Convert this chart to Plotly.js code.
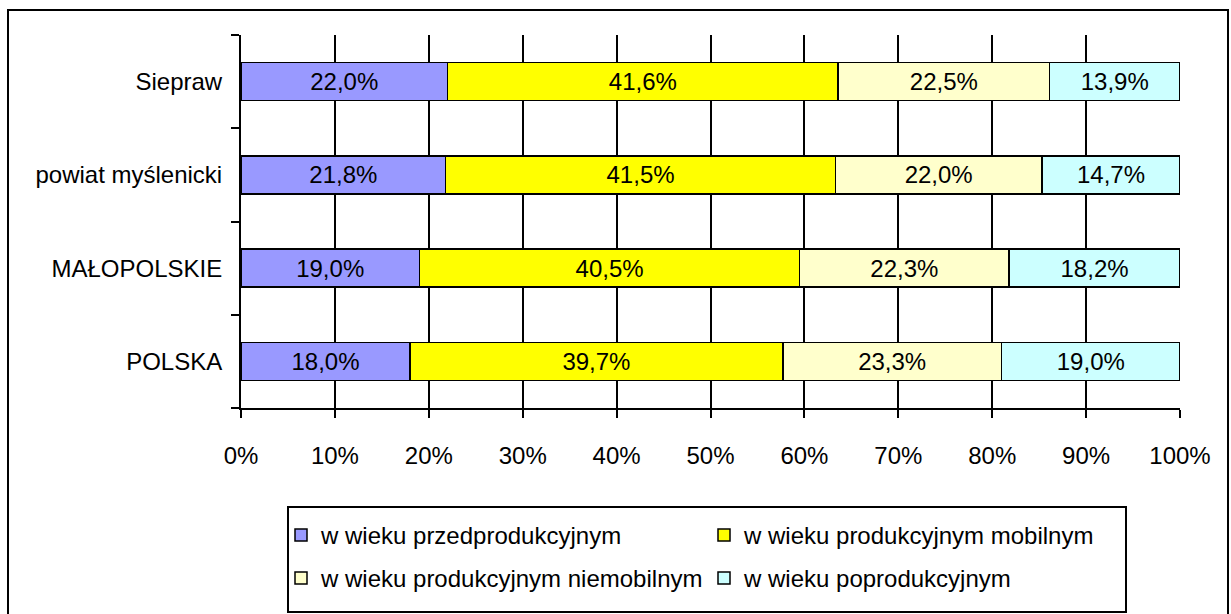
<!DOCTYPE html>
<html>
<head>
<meta charset="utf-8">
<script src="https://cdn.plot.ly/plotly-3.0.1.min.js"></script>
<style>html,body{margin:0;padding:0;background:#fff;}#chart{width:1231px;height:614px;}</style>
</head>
<body>
<div id="chart"></div>
<script>
const categories = ["POLSKA", "MAŁOPOLSKIE", "powiat myślenicki", "Siepraw"];
const seriesNames = ["w wieku przedprodukcyjnym", "w wieku produkcyjnym mobilnym", "w wieku produkcyjnym niemobilnym", "w wieku poprodukcyjnym"];
const przedprodukcyjny = [18.0, 19.0, 21.8, 22.0];
const mobilny = [39.7, 40.5, 41.5, 41.6];
const niemobilny = [23.3, 22.3, 22.0, 22.5];
const poprodukcyjny = [19.0, 18.2, 14.7, 13.9];
const xTicks = [0, 10, 20, 30, 40, 50, 60, 70, 80, 90, 100];

const colors = ["#9999FF", "#FFFF00", "#FFFFCC", "#CCFFFF"];
const values = [przedprodukcyjny, mobilny, niemobilny, poprodukcyjny];
const legendIds = ["legend", "legend", "legend2", "legend2"];
const FONT = "Liberation Sans, Arial, sans-serif";

const traces = values.map((v, i) => ({
  type: "bar",
  orientation: "h",
  name: seriesNames[i],
  legend: legendIds[i],
  y: categories,
  x: v,
  marker: {color: colors[i], line: {color: "#000", width: 1.5}},
  texttemplate: "%{x:.1f}%",
  textposition: "inside",
  insidetextanchor: "middle",
  textangle: 0,
  insidetextfont: {family: FONT, size: 24, color: "#000"},
  hoverinfo: "x+y+name"
}));

const L = 241, R = 1180, T = 35, B = 408;
const W = R - L, H = B - T;
const px = x => (x - L) / W;
const py = y => (B - y) / H;
const legendCommon = {
  orientation: "h",
  xanchor: "left", yanchor: "top",
  borderwidth: 0,
  bgcolor: "rgba(0,0,0,0)",
  entrywidth: 378, entrywidthmode: "pixels",
  traceorder: "normal",
  font: {family: FONT, size: 24, color: "#000"}
};
const layout = {
  width: 1231, height: 614,
  margin: {l: L, r: 1231 - R, t: T, b: 614 - B, pad: 0},
  paper_bgcolor: "#fff", plot_bgcolor: "#fff",
  barmode: "stack",
  bargap: 0.59,
  separators: ", ",
  font: {family: FONT, size: 24, color: "#000"},
  showlegend: true,
  xaxis: {
    range: [0, 100],
    tickvals: xTicks,
    ticktext: xTicks.map(t => t + "%"),
    showgrid: true, gridcolor: "#000", gridwidth: 2,
    showline: true, linecolor: "#000", linewidth: 2,
    ticks: "outside", ticklen: 8, tickwidth: 2, tickcolor: "#000",
    ticklabelstandoff: 17,
    zeroline: false,
    tickfont: {family: FONT, size: 24, color: "#000"},
    fixedrange: true
  },
  yaxis: {
    type: "category",
    categoryorder: "array", categoryarray: categories,
    showgrid: false,
    showline: true, linecolor: "#000", linewidth: 2,
    ticks: "outside", tickson: "boundaries", ticklen: 8, tickwidth: 2, tickcolor: "#000",
    ticklabelstandoff: 12,
    tickfont: {family: FONT, size: 24, color: "#000"},
    fixedrange: true
  },
  legend: Object.assign({}, legendCommon, {x: px(281), y: py(513)}),
  legend2: Object.assign({}, legendCommon, {x: px(281), y: py(556)}),
  shapes: [{
    type: "rect", xref: "paper", yref: "paper",
    x0: px(8), x1: px(1228),
    y0: py(620), y1: py(10),
    line: {color: "#000", width: 2}, fillcolor: "rgba(0,0,0,0)", layer: "below"
  }, {
    type: "rect", xref: "paper", yref: "paper",
    x0: px(288), x1: px(1126),
    y0: py(612), y1: py(507),
    line: {color: "#000", width: 2}, fillcolor: "rgba(0,0,0,0)", layer: "below"
  }]
};

Plotly.newPlot("chart", traces, layout, {displayModeBar: false, staticPlot: true});
</script>
</body>
</html>
